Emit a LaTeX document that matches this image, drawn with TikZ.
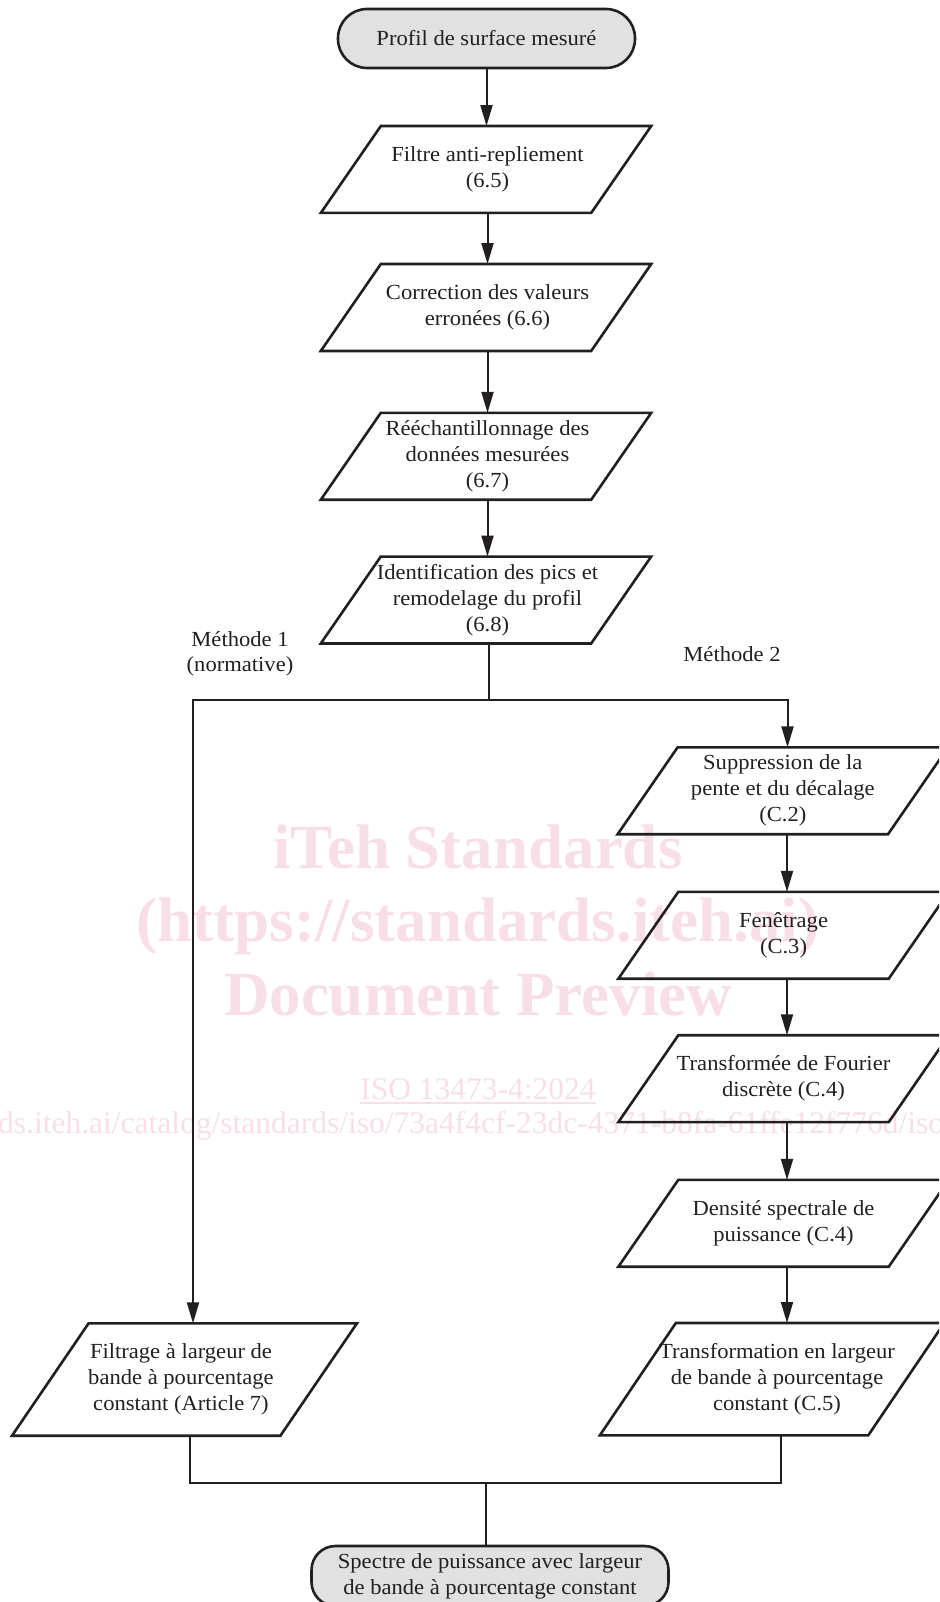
\documentclass[tikz,border=0pt]{standalone}
\usepackage{fontspec}
\setmainfont{Liberation Serif}[FakeStretch=1.05]
\newfontfamily\wmfont{Liberation Serif}
\usetikzlibrary{arrows.meta,calc}
\definecolor{ink}{RGB}{35,31,32}
\definecolor{termfill}{RGB}{225,225,225}
\definecolor{wmpink}{RGB}{248,223,231}
\newcommand{\stepfs}{\fontsize{21.5}{26}\selectfont}
% parallelogram drawn round a named node: node, half slant, x offset
\newcommand{\pgshape}[3]{%
  \draw[boxline] ($(#1.south west)+({-(#2)+(#3)},0)$) -- ($(#1.south east)+({-(#2)+(#3)},0)$)
    -- ($(#1.north east)+({(#2)+(#3)},0)$) -- ($(#1.north west)+({(#2)+(#3)},0)$) -- cycle;}
\tikzset{
  boxline/.style={draw=ink, line width=2.6pt, line join=miter},
  conn/.style={draw=ink, line width=2pt},
  arr/.style={conn, -{Triangle[length=21pt,width=12pt]}},
  stepbox/.style={draw=none, inner sep=0pt, minimum width=270pt, minimum height=86.5pt,
    align=center, font=\stepfs, text=ink},
  tallbox/.style={stepbox, minimum width=268pt, minimum height=112pt},
  term/.style={draw=ink, line width=2.6pt, fill=termfill, inner sep=0pt, align=center,
    font=\stepfs, text=ink},
  lbl/.style={inner sep=0pt, font=\stepfs, text=ink},
  wmbig/.style={inner sep=0pt, font=\wmfont\fontsize{63}{70}\selectfont\bfseries, text=wmpink},
  wmsmall/.style={inner sep=0pt, font=\wmfont\fontsize{31.5}{36}\selectfont, text=wmpink},
}
\begin{document}
\begin{tikzpicture}[x=1pt,y=-1pt]
\useasboundingbox (0,0) rectangle (939,1602);
\clip (0,0) rectangle (939,1602);

% watermark
\node[wmbig, anchor=base] (wm1) at (478,868) {iTeh Standards};
\node[wmbig, anchor=base] (wm2) at (478,941) {(https://standards.iteh.ai)};
\node[wmbig, anchor=base] (wm3) at (478,1015) {Document Preview};
\node[wmsmall, anchor=base] (wm4) at (478,1099) {ISO 13473-4:2024};
\draw[wmpink, line width=1.6pt] ([yshift=-4pt]wm4.base west) -- ([yshift=-4pt]wm4.base east);
\node[wmsmall, anchor=base west] (wm5) at (-2,1133) {ds.iteh.ai/catalog/standards/iso/73a4f4cf-23dc-4371-b8fa-61ffe12f776d/iso};

% terminals
\node[term, minimum width=297pt, minimum height=59pt, rounded corners=29pt] (t1) at (486.5,38.5) {Profil de surface mesuré};
\node[term, minimum width=357pt, minimum height=60pt, rounded corners=24pt] (t2) at (490,1576) {Spectre de puissance avec largeur\\de bande à pourcentage constant};

% main column
\node[stepbox] (p1) at (487.5,169.5) {Filtre anti-repliement\\(6.5)};
\node[stepbox] (p2) at (487.5,307.5) {Correction des valeurs\\erronées (6.6)};
\node[stepbox] (p3) at (487.5,456.3) {Rééchantillonnage des\\données mesurées\\(6.7)};
\node[stepbox] (p4) at (487.5,600) {Identification des pics et\\remodelage du profil\\(6.8)};
\pgshape{p1}{30}{-1.5}
\pgshape{p2}{30}{-1.5}
\pgshape{p3}{30}{-1.5}
\pgshape{p4}{30}{-1.5}

% right column
\node[stepbox] (r1) at (782.8,790.8) {Suppression de la\\pente et du décalage\\(C.2)};
\node[stepbox] (r2) at (783.5,935.3) {Fenêtrage\\(C.3)};
\node[stepbox] (r3) at (783.5,1078.7) {Transformée de Fourier\\discrète (C.4)};
\node[stepbox] (r4) at (783.5,1223.3) {Densité spectrale de\\puissance (C.4)};
\node[tallbox] (r5) at (777,1379.2) {Transformation en largeur\\de bande à pourcentage\\constant (C.5)};
\pgshape{r1}{30}{0}
\pgshape{r2}{30}{0}
\pgshape{r3}{30}{0}
\pgshape{r4}{30}{0}
\pgshape{r5}{38}{-5}

% left column
\node[tallbox] (L) at (181,1379.5) {Filtrage à largeur de\\bande à pourcentage\\constant (Article 7)};
\pgshape{L}{38.3}{3.5}

% labels
\node[lbl, anchor=base] (m1a) at (240,646) {Méthode 1};
\node[lbl, anchor=base] (m1b) at (240,671) {(normative)};
\node[lbl, anchor=base] (m2) at (732,661.5) {Méthode 2};

% connectors
\draw[arr] (t1.south) -- (t1.south |- p1.north);
\draw[arr] (p1) -- (p2);
\draw[arr] (p2) -- (p3);
\draw[arr] (p3) -- (p4);

\coordinate (j1) at (489,700);
\coordinate (jl) at (193,700);
\coordinate (jr) at (787.5,700);
\draw[conn] (p4.south -| j1) -- (j1);
\draw[arr] (j1) -| (jl |- L.north);
\draw[arr] (j1) -| (jr |- r1.north);

\coordinate (ra) at (787,0);
\draw[arr] (r1.south -| ra) -- (ra |- r2.north);
\draw[arr] (r2.south -| ra) -- (ra |- r3.north);
\draw[arr] (r3.south -| ra) -- (ra |- r4.north);
\draw[arr] (r4.south -| ra) -- (ra |- r5.north);

\coordinate (bl) at (190,1483.3);
\coordinate (br) at (780.7,1483.3);
\coordinate (bm) at (485.7,1483.3);
\draw[conn] (L.south -| bl) -- (bl) -- (br) -- (r5.south -| br);
\draw[conn] (bm) -- (bm |- t2.north);
\end{tikzpicture}
\end{document}
